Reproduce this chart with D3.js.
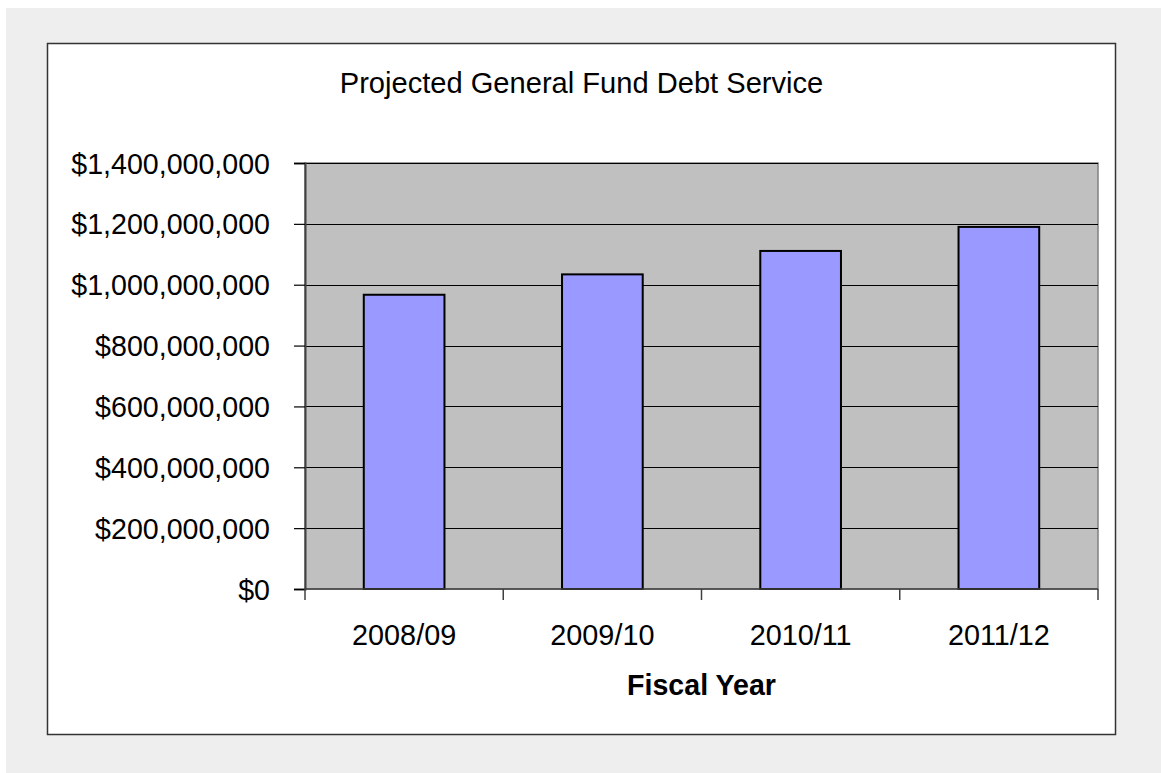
<!DOCTYPE html>
<html>
<head>
<meta charset="utf-8">
<script src="https://cdn.jsdelivr.net/npm/d3@7"></script>
<style>
  html, body { margin: 0; padding: 0; background: #ffffff; }
  svg { display: block; font-family: "Liberation Sans", Arial, sans-serif; }
</style>
</head>
<body>
<svg id="chart" width="1161" height="773"></svg>
<script>
// Fiscal years and projected general fund debt service (USD)
const years = ["2008/09", "2009/10", "2010/11", "2011/12"];
const debtService = [967000000, 1034000000, 1111000000, 1190000000];
const yTicks = [0, 200000000, 400000000, 600000000, 800000000, 1000000000, 1200000000, 1400000000];

const chartTitle = "Projected General Fund Debt Service";
const xTitle = "Fiscal Year";

const svg = d3.select("#chart");
const W = 1161, H = 773;

// Outer panel and white chart frame
svg.append("rect").attr("x", 6).attr("y", 8).attr("width", W - 6).attr("height", H - 8)
  .attr("fill", "#eeeeee");
svg.append("rect").attr("x", 47.5).attr("y", 43.5).attr("width", 1068).attr("height", 691)
  .attr("fill", "#ffffff").attr("stroke", "#333333").attr("stroke-width", 1.5);

// Plot area
const plot = { left: 305, right: 1098, top: 163, bottom: 589 };

const x = d3.scaleBand().domain(years).range([plot.left, plot.right]).paddingInner(0.593).paddingOuter(0.2965);
const xBand = d3.scaleBand().domain(years).range([plot.left, plot.right]);
const y = d3.scaleLinear().domain([0, 1400000000]).range([plot.bottom, plot.top]);

svg.append("rect")
  .attr("x", plot.left).attr("y", plot.top)
  .attr("width", plot.right - plot.left).attr("height", plot.bottom - plot.top)
  .attr("fill", "#c0c0c0").attr("stroke", "#808080").attr("stroke-width", 1.5);

// Horizontal gridlines
svg.append("g").selectAll("line").data(yTicks.filter(d => d > 0)).join("line")
  .attr("x1", plot.left).attr("x2", plot.right)
  .attr("y1", d => Math.round(y(d)) + 0.5).attr("y2", d => Math.round(y(d)) + 0.5)
  .attr("stroke", "#000000").attr("stroke-width", 1.2);

// Bars
svg.append("g").selectAll("rect").data(years).join("rect")
  .attr("x", d => x(d))
  .attr("y", (d, i) => y(debtService[i]))
  .attr("width", x.bandwidth())
  .attr("height", (d, i) => plot.bottom - y(debtService[i]))
  .attr("fill", "#9999ff")
  .attr("stroke", "#000000").attr("stroke-width", 2);

// Y axis
const fmt = d => "$" + d3.format(",")(d);
const yAxis = svg.append("g").attr("transform", `translate(${plot.left},0)`)
  .call(d3.axisLeft(y).tickValues(yTicks).tickFormat(fmt).tickSize(11).tickPadding(24));
yAxis.select(".domain").attr("stroke", "#404040").attr("stroke-width", 2);
yAxis.selectAll(".tick line").attr("stroke", "#000000").attr("stroke-width", 1.2);
yAxis.selectAll(".tick text")
  .attr("font-family", "'Liberation Sans', Arial, sans-serif")
  .attr("font-size", 28.6).attr("fill", "#000000").attr("dy", "0.35em");

// X axis: ticks between categories, labels centred under bars
const xAxisG = svg.append("g");
xAxisG.append("line")
  .attr("x1", plot.left).attr("x2", plot.right)
  .attr("y1", plot.bottom).attr("y2", plot.bottom)
  .attr("stroke", "#404040").attr("stroke-width", 1.5);
const boundaries = years.map(d => xBand(d)).concat([plot.right]);
xAxisG.selectAll("line.tk").data(boundaries).join("line").attr("class", "tk")
  .attr("x1", d => d).attr("x2", d => d)
  .attr("y1", plot.bottom).attr("y2", plot.bottom + 11)
  .attr("stroke", "#404040").attr("stroke-width", 1.5);
xAxisG.selectAll("text").data(years).join("text")
  .attr("x", d => xBand(d) + xBand.bandwidth() / 2)
  .attr("y", 645)
  .attr("text-anchor", "middle")
  .attr("font-size", 28.8).attr("fill", "#000000")
  .text(d => d);

// Titles
svg.append("text")
  .attr("x", 581.5).attr("y", 93)
  .attr("text-anchor", "middle")
  .attr("font-size", 29.1).attr("fill", "#000000")
  .text(chartTitle);

svg.append("text")
  .attr("x", (plot.left + plot.right) / 2).attr("y", 695)
  .attr("text-anchor", "middle")
  .attr("font-size", 28.6).attr("font-weight", "bold").attr("fill", "#000000")
  .text(xTitle);
</script>
</body>
</html>
